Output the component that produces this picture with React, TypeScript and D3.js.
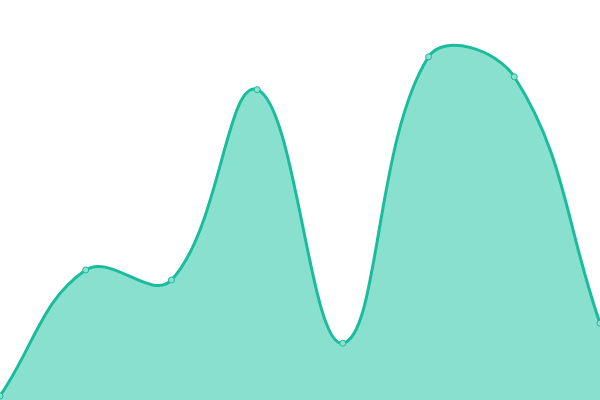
import { useEffect, useRef } from 'react';
import * as d3 from 'd3';

const WIDTH = 600;
const HEIGHT = 400;

// one value per point, left to right
const labels = ['A', 'B', 'C', 'D', 'E', 'F', 'G', 'H'];
const values = [1, 32.5, 30, 77.6, 14.2, 85.8, 80.8, 19.2];

// spline with distance-weighted control points (tension 0.4)
function splineCurve(tension: number) {
  return (context: any) => {
    let line = NaN;
    let pts: [number, number][] = [];
    const clampX = (v: number) => Math.max(0, Math.min(WIDTH, v));
    const clampY = (v: number) => Math.max(0, Math.min(HEIGHT, v));
    return {
      areaStart() { line = 0; },
      areaEnd() { line = NaN; },
      lineStart() { pts = []; },
      point(x: number, y: number) { pts.push([+x, +y]); },
      lineEnd() {
        const n = pts.length;
        const cps = pts.map((cur, i) => {
          const prev = pts[i > 0 ? i - 1 : i];
          const next = pts[i < n - 1 ? i + 1 : i];
          const d01 = Math.hypot(cur[0] - prev[0], cur[1] - prev[1]);
          const d12 = Math.hypot(next[0] - cur[0], next[1] - cur[1]);
          let s01 = d01 / (d01 + d12);
          let s12 = d12 / (d01 + d12);
          if (isNaN(s01)) s01 = 0;
          if (isNaN(s12)) s12 = 0;
          const fa = tension * s01;
          const fb = tension * s12;
          return {
            c1: [clampX(cur[0] - fa * (next[0] - prev[0])), clampY(cur[1] - fa * (next[1] - prev[1]))],
            c2: [clampX(cur[0] + fb * (next[0] - prev[0])), clampY(cur[1] + fb * (next[1] - prev[1]))],
          };
        });
        pts.forEach((p, i) => {
          if (i === 0) {
            if (line) context.lineTo(p[0], p[1]);
            else context.moveTo(p[0], p[1]);
          } else {
            const a = cps[i - 1].c2;
            const b = cps[i].c1;
            context.bezierCurveTo(a[0], a[1], b[0], b[1], p[0], p[1]);
          }
        });
        if (line || (line !== 0 && n === 1)) context.closePath();
        line = 1 - line;
      },
    };
  };
}

export default function App() {
  const ref = useRef<SVGSVGElement>(null);

  useEffect(() => {
    if (!ref.current) return;

    const data = labels.map((label, i) => ({ label, value: values[i] }));

    const x = d3.scalePoint<string>()
      .domain(labels)
      .range([0, WIDTH]);

    const y = d3.scaleLinear()
      .domain([0, 100])
      .range([HEIGHT, 0]);

    const curve = splineCurve(0.4) as any;

    const area = d3.area<{ label: string; value: number }>()
      .x(d => x(d.label) as number)
      .y0(HEIGHT)
      .y1(d => y(d.value))
      .curve(curve);

    const line = d3.line<{ label: string; value: number }>()
      .x(d => x(d.label) as number)
      .y(d => y(d.value))
      .curve(curve);

    const svg = d3.select(ref.current);
    svg.selectAll('*').remove();

    svg.append('path')
      .datum(data)
      .attr('d', area)
      .attr('fill', '#8ae0cf');

    svg.append('path')
      .datum(data)
      .attr('d', line)
      .attr('fill', 'none')
      .attr('stroke', '#1abc9c')
      .attr('stroke-width', 3);

    // markers
    svg.selectAll('circle')
      .data(data)
      .enter()
      .append('circle')
      .attr('cx', d => x(d.label) as number)
      .attr('cy', d => y(d.value))
      .attr('r', 3)
      .attr('fill', '#8ee0cf')
      .attr('stroke', '#1abc9c')
      .attr('stroke-width', 1);
  }, []);

  return (
    <svg
      ref={ref}
      width={WIDTH}
      height={HEIGHT}
      style={{ position: 'fixed', top: 0, left: 0, display: 'block', background: '#fff' }}
    />
  );
}
